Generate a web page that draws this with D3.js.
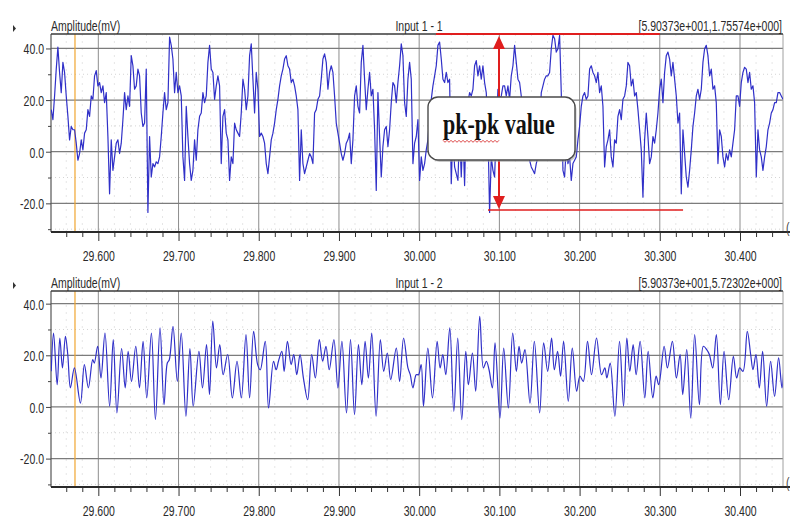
<!DOCTYPE html>
<html>
<head>
<meta charset="utf-8">
<script src="https://cdn.jsdelivr.net/npm/d3@7"></script>
<style>
  html, body { margin: 0; padding: 0; background: #ffffff; }
  svg { display: block; }
</style>
</head>
<body>
<svg id="chart" width="792" height="521"></svg>
<script>
// ---- Shared time axis (s) ----
const timeDomain = [29.541, 30.4536];
const majorTicks = [29.6, 29.7, 29.8, 29.9, 30.0, 30.1, 30.2, 30.3, 30.4];
const minorTicks = [29.56, 29.58, 29.62, 29.64, 29.66, 29.68, 29.72, 29.74, 29.76, 29.78,
  29.82, 29.84, 29.86, 29.88, 29.92, 29.94, 29.96, 29.98, 30.02, 30.04, 30.06, 30.08,
  30.12, 30.14, 30.16, 30.18, 30.22, 30.24, 30.26, 30.28, 30.32, 30.34, 30.36, 30.38,
  30.42, 30.44];

// ---- Amplitude axis (mV) ----
const ampTicks = [40, 20, 0, -20];
const ampMinorTicks = [30, 10, -10, -30];

// ---- Labels ----
const yLabel = "Amplitude(mV)";
const panelTitles = ["Input 1 - 1", "Input 1 - 2"];
const cursorReadouts = ["[5.90373e+001,1.75574e+000]", "[5.90373e+001,5.72302e+000]"];
const cursorTime = 29.5709;

// ---- Channel 1: uniformly sampled record ----
const ch1Start = 29.5413;
const ch1Step = 0.002078;
const ch1Values = [
  16.3, 12.4, 21.6, 32.0, 40.5, 30.7, 22.9, 34.6, 30.7, 21.6,
  13.7, 4.6, 9.8, 8.5, 8.5, 3.3, -3.3, -0.7, 4.6, 0.7,
  7.2, 8.5, 16.3, 13.7, 21.6, 20.3, 29.4, 31.4, 25.5, 26.8,
  22.9, 25.5, 19.0, 22.9, 5.9, -16.3, 4.6, -7.2, -2.0, 3.3,
  4.6, -0.7, 3.3, 12.4, 22.9, 16.3, 21.6, 17.6, 37.2, 33.3,
  24.2, 25.5, 32.0, 29.4, 15.0, 9.8, 11.1, 32.0, -23.5, 5.9,
  -9.8, -4.6, -5.9, -3.9, -4.6, -2.0, 5.9, 15.0, 22.9, 16.3,
  19.0, 44.4, 41.2, 35.9, 22.9, 30.7, 22.9, 25.5, 21.6, -2.0,
  -11.1, 17.6, 5.9, -4.6, -11.1, -7.2, 4.6, -3.3, 8.5, 13.7,
  15.0, 22.9, 19.0, 21.6, 34.6, 41.2, 32.0, 30.7, 20.3, 25.5,
  29.4, 25.5, -4.6, 13.7, 16.3, 7.2, 4.6, -11.1, -2.0, -4.6,
  11.1, 8.5, 7.2, 5.9, 15.0, 28.1, 24.2, 16.3, 21.6, 37.2,
  41.8, 28.1, 15.0, 30.7, 24.2, 5.9, 7.2, 5.9, 3.3, -4.6,
  -8.5, -2.0, 4.6, 7.2, 11.1, 16.3, 20.3, 25.5, 29.4, 32.0,
  35.9, 37.2, 33.3, 32.0, 26.8, 28.1, 25.5, 21.6, 16.3, -11.1,
  8.5, -4.6, -8.5, -5.9, -3.3, -0.7, -2.0, -4.6, 15.0, 16.3,
  20.3, 21.6, 28.1, 35.9, 37.9, 34.6, 24.2, 30.7, 33.3, 30.7,
  21.6, 11.1, 7.2, 3.3, -0.7, -3.3, -0.7, 3.3, 4.6, 7.2,
  -4.6, 4.6, 21.6, 25.5, 17.6, 15.0, 34.6, 41.2, 28.1, 16.3,
  24.2, 30.7, 21.6, 24.2, 8.5, -15.0, 22.9, 5.9, -9.8, 2.0,
  8.5, 9.8, 2.0, 8.5, 19.0, 26.8, 25.5, 19.0, 26.8, 33.3,
  41.8, 37.2, 19.0, 13.7, 28.1, 34.6, 28.1, -4.6, 3.3, 5.9,
  12.4,
  -11.1, -2.0, -7.2, -4.6, 0.7, 4.6, 13.7, 20.3, 25.5, 29.4,
  33.3, 41.2, 42.5, 35.9, 28.1, 26.8, 30.7, 26.8, 28.1, -12.4,
  8.5, -5.9, -8.5, -11.1, 8.5, -9.8, 8.5, -13.1, 15.0, 19.0,
  22.9, 21.6, 24.2, 33.3, 35.3, 29.4, 33.3, 28.1, 33.3, 26.8,
  22.9, 8.5, -23.5, -2.0, -7.2, -9.8, 8.5, 24.2, 20.3, 21.6,
  25.5, 25.5, 21.6, 25.5, 20.3, 29.4, 33.3, 41.2, 34.6, 28.1,
  26.8, 21.6, 13.7, 8.5, 4.6, 0.7, -3.3, -5.9, -7.2, -8.5,
  -4.6, -2.0, 8.5, 22.9, 25.5, 28.1, 29.4, 29.4, 30.7, 39.9,
  45.1, 43.8, 38.6, 39.9, 45.1, 22.9, -7.2, -9.8, 2.0, -4.6,
  -2.0, -11.1, -4.6, -3.3, -2.0, 4.6, 9.8, 17.6, 21.6, 22.9,
  20.3, 21.6, 32.0, 33.3, 30.7, 29.4, 26.8, 30.7, 22.9, 25.5,
  17.6, -5.9, 2.0, 4.6, 8.5, -2.0, -5.9, 4.6, 3.3, 13.7,
  16.3, 12.4, 20.3, 21.6, 25.5, 34.6, 33.3, 25.5, 28.1, 21.6,
  22.9, 16.3, 8.5, 0.7, -17.6, 4.6, 15.0, 5.9, -4.6, -2.0,
  5.9, 3.3, 8.5, 15.0, 24.2, 28.1, 19.0, 30.7, 37.2, 38.6,
  35.9, 29.4, 34.6, 28.1, 21.6, 11.1, 15.0, -16.3, 8.5, -0.7,
  -9.8, -13.7, -7.2, 0.7, 9.8, 15.0, 21.6, 24.2, 20.3, 24.2,
  34.6, 39.9, 41.2, 37.2, 29.4, 32.0, 24.2, 25.5, 19.0, -4.6,
  8.5, 5.9, -2.0, -5.9, -0.7, -3.3, 0.7, -2.0, 3.3, 8.5,
  21.6, 21.6, 17.6, 26.8, 30.7, 32.7, 32.0, 26.8, 30.7, 24.2,
  25.5, 19.0, -9.8, 8.5, 0.7, -2.0, -7.2, -2.0, 2.0, 8.5,
  11.1, 15.0, 16.3, 19.0, 19.0, 22.9, 22.9, 21.6, 20.3
];

// ---- Channel 2: turning points of the trace ----
const ch2Times = [
  29.5413, 29.5442, 29.5487, 29.5520, 29.5553, 29.5590, 29.5619, 29.5652, 29.5702, 29.5777,
  29.5826, 29.5876, 29.5930, 29.5950, 29.5992, 29.6033, 29.6083, 29.6141, 29.6186, 29.6232,
  29.6290, 29.6335, 29.6372, 29.6414, 29.6467, 29.6513, 29.6558, 29.6604, 29.6662, 29.6712,
  29.6769, 29.6819, 29.6860, 29.6885, 29.6931, 29.6985, 29.7034, 29.7092, 29.7142, 29.7183,
  29.7254, 29.7299, 29.7349, 29.7386, 29.7427, 29.7473, 29.7514, 29.7556, 29.7613, 29.7671,
  29.7729, 29.7783, 29.7841, 29.7886, 29.7936, 29.7986, 29.8019, 29.8081, 29.8122, 29.8184,
  29.8217, 29.8246, 29.8288, 29.8317, 29.8358, 29.8404, 29.8437, 29.8474, 29.8515, 29.8557,
  29.8610, 29.8660, 29.8706, 29.8755, 29.8797, 29.8838, 29.8879, 29.8937, 29.8987, 29.9037,
  29.9094, 29.9144, 29.9194, 29.9243, 29.9285, 29.9326, 29.9367, 29.9409, 29.9463, 29.9516,
  29.9558, 29.9603, 29.9645, 29.9715, 29.9756, 29.9806, 29.9860, 29.9889, 29.9922, 29.9963,
  29.9992, 30.0025, 30.0054, 30.0108, 30.0166, 30.0224, 30.0261, 30.0295, 30.0332, 30.0382,
  30.0432, 30.0481, 30.0531, 30.0581, 30.0614, 30.0664, 30.0705, 30.0755, 30.0801, 30.0838,
  30.0871, 30.0913, 30.0946, 30.1008, 30.1054, 30.1112, 30.1166, 30.1212, 30.1245, 30.1278,
  30.1319, 30.1382, 30.1436, 30.1502, 30.1552, 30.1602, 30.1651, 30.1685, 30.1726, 30.1763,
  30.1801, 30.1859, 30.1909, 30.1963, 30.2004, 30.2046, 30.2099, 30.2149, 30.2211, 30.2274,
  30.2315, 30.2340, 30.2382, 30.2440, 30.2498, 30.2548, 30.2589, 30.2626, 30.2668, 30.2705,
  30.2755, 30.2813, 30.2855, 30.2913, 30.2954, 30.2987, 30.3054, 30.3095, 30.3157, 30.3207,
  30.3253, 30.3286, 30.3336, 30.3386, 30.3435, 30.3494, 30.3543, 30.3585, 30.3618, 30.3660,
  30.3705, 30.3755, 30.3801, 30.3859, 30.3917, 30.3958, 30.3996, 30.4037, 30.4091, 30.4133,
  30.4162, 30.4199, 30.4241, 30.4282, 30.4332, 30.4381, 30.4431, 30.4481, 30.4523, 30.4556
];
const ch2Values = [
  13.8, 28.6, 8.6, 26.7, 15.1, 27.3, 20.3, 7.4, 15.1, 1.5,
  16.4, 7.4, 18.3, 17.0, 23.5, 11.2, 28.6, 0.3, 26.1, -2.3,
  22.6, 7.4, 21.5, 9.9, 23.5, 7.4, 25.4, 3.5, 28.6, -4.9,
  30.6, 0.9, 17.0, 18.3, 31.2, 9.9, 28.6, -3.6, 22.6, 0.3,
  21.5, 7.4, 24.1, 4.8, 33.2, 15.1, 24.1, 12.5, 20.3, 3.5,
  17.7, 3.5, 28.0, 3.5, 29.3, 16.4, 14.4, 25.4, -0.4, 17.7,
  14.4, 17.7, 21.5, 13.8, 25.4, 16.4, 20.3, 12.5, 20.3, 11.2,
  2.8, 20.3, 11.2, 26.1, 17.7, 23.5, 14.4, 26.1, 7.4, 25.4,
  -2.3, 26.1, -3.0, 24.1, 8.6, 25.4, 11.2, 28.6, -3.6, 26.1,
  13.8, 20.9, 10.6, 22.8, 9.9, 26.7, 15.1, 12.5, 7.4, 12.5,
  12.5, 16.4, 0.3, 22.8, 3.5, 25.4, 15.1, 20.3, 12.5, 30.6,
  -1.7, 26.7, -4.9, 21.5, 8.6, 20.9, 6.1, 35.1, 15.1, 17.7,
  14.4, 7.4, 24.8, -4.3, 22.8, -0.4, 28.6, 13.8, 23.5, 17.0,
  22.2, 1.5, 25.4, -2.3, 24.8, 13.8, 26.7, 14.4, 21.5, 11.9,
  25.4, 2.2, 22.8, 6.1, 11.9, 9.9, 25.4, 12.5, 26.7, 12.5,
  15.1, 11.2, 17.0, -3.6, 25.4, 0.3, 26.7, 13.8, 24.1, 12.5,
  25.4, 3.5, 21.5, 3.5, 11.9, 8.6, 23.5, 15.1, 25.4, 11.2,
  20.3, 4.8, 22.2, -4.3, 28.0, 0.9, 23.5, 22.2, 20.3, 15.1,
  28.0, 0.9, 21.5, 2.8, 19.6, 11.2, 15.1, 13.8, 29.3, 20.3,
  14.4, 20.3, 7.4, 21.5, 0.3, 17.7, 4.1, 19.0, 7.4, 22.8
];

// ---- pk-pk annotation on channel 1 ----
const pkHigh = 45.6;
const pkLow = -22.6;
const pkArrowTime = 30.0995;
const pkHighSpan = [30.021, 30.300];
const pkLowSpan = [30.0858, 30.329];
const pkText = "pk-pk value";

// ---------------------------------------------------------------
const svg = d3.select("#chart");
const W = 792, H = 521;
const plotLeft = 51, plotRight = 783;
const textStretch = 1.45;
const uiFont = "'Liberation Sans', Arial, sans-serif";

const x = d3.scaleLinear().domain(timeDomain).range([plotLeft, plotRight]);

const panels = [
  { top: 34, bottom: 232, yDomain: [-31.1, 45.6], title: panelTitles[0], readout: cursorReadouts[0],
    points: ch1Values.map((v, i) => ({ t: ch1Start + i * ch1Step, v })), curve: d3.curveLinear },
  { top: 291, bottom: 487, yDomain: [-31.0, 44.9], title: panelTitles[1], readout: cursorReadouts[1],
    points: ch2Times.map((t, i) => ({ t, v: ch2Values[i] })), curve: d3.curveCatmullRom.alpha(0.5) }
];

// Text drawn with the tall, narrow look of the instrument UI
function tallText(parent, px, py, str, opts = {}) {
  const g = parent.append("g").attr("transform", `translate(${px},${py}) scale(1,${opts.stretch || textStretch})`);
  return g.append("text")
    .attr("x", 0).attr("y", 0)
    .attr("text-anchor", opts.anchor || "start")
    .attr("font-family", opts.family || uiFont)
    .attr("font-size", opts.size || 10.5)
    .attr("font-weight", opts.weight || "normal")
    .attr("fill", opts.fill || "#2a2a2a")
    .text(str);
}

const defs = svg.append("defs");

panels.forEach((p, idx) => {
  const y = d3.scaleLinear().domain(p.yDomain).range([p.bottom, p.top]);
  const g = svg.append("g");
  const clipId = "clip" + idx;
  defs.append("clipPath").attr("id", clipId)
    .append("rect").attr("x", plotLeft).attr("y", p.top)
    .attr("width", plotRight - plotLeft).attr("height", p.bottom - p.top);

  // faint minor grid
  g.append("g").selectAll("line").data(ampMinorTicks).join("line")
    .attr("x1", plotLeft).attr("x2", plotRight)
    .attr("y1", d => y(d)).attr("y2", d => y(d))
    .attr("stroke", "#d4d4d4").attr("stroke-width", 1).attr("stroke-dasharray", "1,3");
  g.append("g").selectAll("line").data(minorTicks).join("line")
    .attr("x1", d => x(d)).attr("x2", d => x(d))
    .attr("y1", p.top).attr("y2", p.bottom)
    .attr("stroke", "#e6e6e6").attr("stroke-width", 1).attr("stroke-dasharray", "2,5");

  // major grid
  g.append("g").selectAll("line").data(majorTicks).join("line")
    .attr("x1", d => x(d)).attr("x2", d => x(d))
    .attr("y1", p.top).attr("y2", p.bottom)
    .attr("stroke", "#8e8e8e").attr("stroke-width", 1);
  g.append("g").selectAll("line").data(ampTicks).join("line")
    .attr("x1", plotLeft).attr("x2", plotRight)
    .attr("y1", d => y(d)).attr("y2", d => y(d))
    .attr("stroke", "#7c7c7c").attr("stroke-width", 1.3);

  // cursor
  g.append("line")
    .attr("x1", x(cursorTime)).attr("x2", x(cursorTime))
    .attr("y1", p.top).attr("y2", p.bottom)
    .attr("stroke", "#f0a530").attr("stroke-width", 1.2);

  // frame
  g.append("line").attr("x1", plotRight).attr("x2", plotRight).attr("y1", p.top).attr("y2", p.bottom)
    .attr("stroke", "#a0a0a0").attr("stroke-width", 1);
  g.append("line").attr("x1", plotLeft).attr("x2", plotLeft).attr("y1", p.top).attr("y2", p.bottom)
    .attr("stroke", "#555").attr("stroke-width", 1.2);
  g.append("line").attr("x1", plotLeft).attr("x2", plotRight).attr("y1", p.top).attr("y2", p.top)
    .attr("stroke", "#3a3a3a").attr("stroke-width", 1.6);

  // signal
  const line = d3.line().x(d => x(d.t)).y(d => y(d.v)).curve(p.curve);
  g.append("path")
    .datum(p.points)
    .attr("clip-path", `url(#${clipId})`)
    .attr("d", line)
    .attr("fill", "none")
    .attr("stroke", "#3030c8")
    .attr("stroke-width", 1.2)
    .attr("stroke-linejoin", "round");

  // x axis
  const xMinor = d3.axisBottom(x).tickValues(minorTicks).tickSize(5).tickFormat("");
  g.append("g").attr("transform", `translate(0,${p.bottom})`).call(xMinor)
    .call(a => a.select(".domain").remove())
    .selectAll("line").attr("stroke", "#333");
  const xMajor = d3.axisBottom(x).tickValues(majorTicks).tickSize(9).tickFormat(d => d.toFixed(3));
  const xa = g.append("g").attr("transform", `translate(0,${p.bottom})`).call(xMajor);
  xa.select(".domain").remove();
  xa.selectAll("line").attr("stroke", "#333");
  xa.selectAll("text")
    .attr("dy", null)
    .attr("y", 29.5 / textStretch)
    .attr("transform", `scale(1,${textStretch})`)
    .attr("font-family", uiFont).attr("font-size", 10.5).attr("fill", "#2a2a2a");
  g.append("line").attr("x1", plotLeft).attr("x2", 790).attr("y1", p.bottom).attr("y2", p.bottom)
    .attr("stroke", "#2a2a2a").attr("stroke-width", 2);

  // y axis
  const yMinor = d3.axisLeft(y).tickValues(ampMinorTicks).tickSize(3).tickFormat("");
  g.append("g").attr("transform", `translate(${plotLeft},0)`).call(yMinor)
    .call(a => a.select(".domain").remove())
    .selectAll("line").attr("stroke", "#444");
  const yMajor = d3.axisLeft(y).tickValues(ampTicks).tickSize(5).tickPadding(2).tickFormat(d => d.toFixed(1));
  const ya = g.append("g").attr("transform", `translate(${plotLeft},0)`).call(yMajor);
  ya.select(".domain").remove();
  ya.selectAll("line").attr("stroke", "#444");
  ya.selectAll("text")
    .attr("dy", null)
    .attr("y", 5.4 / textStretch)
    .attr("transform", `scale(1,${textStretch})`)
    .attr("font-family", uiFont).attr("font-size", 10.5).attr("fill", "#2a2a2a");

  // headers
  tallText(g, plotLeft, p.top - 3, yLabel);
  tallText(g, 419, p.top - 3, p.title, { anchor: "middle" });
  tallText(g, 782, p.top - 3, p.readout, { anchor: "end" });

  // small side markers
  g.append("path")
    .attr("d", `M13,${p.top - 9} L16,${p.top - 5.5} L13,${p.top - 2} Z`)
    .attr("fill", "#333");
  tallText(g, 786, p.bottom + 1, "(", { fill: "#444" });

  if (idx === 0) {
    // pk-pk annotation
    const red = "#e01e1e";
    const ya0 = y(pkHigh), yb0 = y(pkLow);
    const ax = x(pkArrowTime);
    g.append("line").attr("x1", x(pkHighSpan[0])).attr("x2", x(pkHighSpan[1]))
      .attr("y1", ya0).attr("y2", ya0).attr("stroke", red).attr("stroke-width", 1.8);
    g.append("line").attr("x1", x(pkLowSpan[0])).attr("x2", x(pkLowSpan[1]))
      .attr("y1", yb0).attr("y2", yb0).attr("stroke", red).attr("stroke-width", 1.5);
    g.append("line").attr("x1", ax).attr("x2", ax)
      .attr("y1", ya0 + 8).attr("y2", yb0 - 8).attr("stroke", red).attr("stroke-width", 2);
    g.append("path")
      .attr("d", `M${ax},${ya0 + 2} L${ax + 6},${ya0 + 15} L${ax - 6},${ya0 + 15} Z`)
      .attr("fill", red);
    g.append("path")
      .attr("d", `M${ax},${yb0 - 1} L${ax + 6},${yb0 - 14} L${ax - 6},${yb0 - 14} Z`)
      .attr("fill", red);

    // callout box
    const bx = 428, by = 97, bw = 147, bh = 63;
    g.append("rect").attr("x", bx + 1.5).attr("y", by + 2).attr("width", bw).attr("height", bh)
      .attr("rx", 10).attr("fill", "#9a9a9a").attr("opacity", 0.55);
    g.append("rect").attr("x", bx).attr("y", by).attr("width", bw).attr("height", bh)
      .attr("rx", 10).attr("fill", "#ffffff").attr("stroke", "#4a4a4a").attr("stroke-width", 1.4);
    tallText(g, 443, 134, pkText, {
      family: "'Liberation Serif', 'Times New Roman', serif", size: 22, weight: "bold",
      fill: "#111", stretch: 1.38
    });
    // spell-check squiggle under the first word
    const sq = [];
    for (let sx = 443, k = 0; sx <= 499; sx += 2, k++) sq.push([sx, 141 + (k % 2 ? 1.3 : -0.7)]);
    g.append("path").attr("d", d3.line()(sq)).attr("fill", "none")
      .attr("stroke", "#d83030").attr("stroke-width", 0.9);
  }
});
</script>
</body>
</html>
